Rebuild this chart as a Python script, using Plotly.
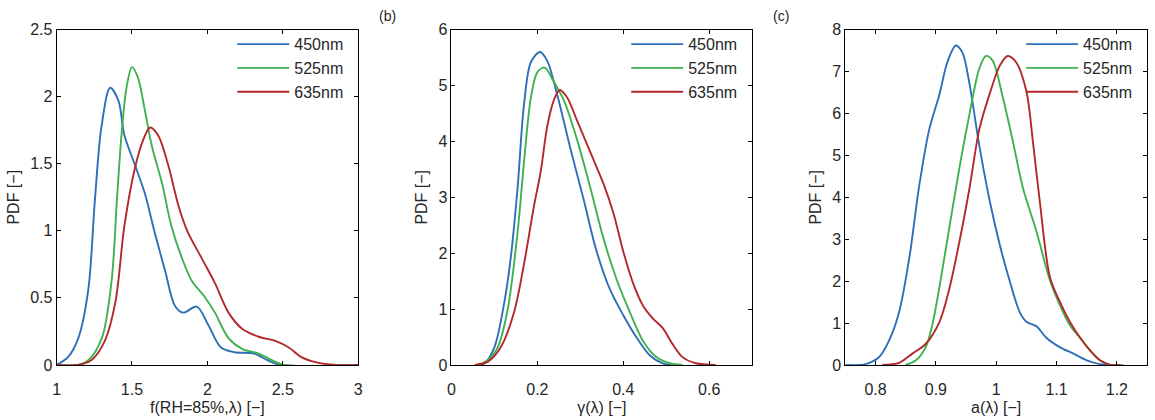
import plotly.graph_objects as go

# ---------------- data ----------------
series_names = ["450nm", "525nm", "635nm"]
colors = ["#2f6fb8", "#3fb24f", "#b3282a"]

# panel (a): f(RH=85%, lambda)
a_blue_x = [1.0, 1.077, 1.144, 1.21, 1.254, 1.298, 1.355, 1.41, 1.45, 1.52, 1.585, 1.65, 1.72, 1.785, 1.84, 1.93, 2.005, 2.09, 2.18, 2.31, 2.40, 2.49, 3.0]
a_blue_y = [0.0, 0.06, 0.2, 0.56, 1.23, 1.78, 2.066, 1.97, 1.71, 1.49, 1.28, 0.99, 0.70, 0.44, 0.39, 0.435, 0.30, 0.13, 0.095, 0.085, 0.035, 0.0, 0.0]
a_green_x = [1.0, 1.14, 1.21, 1.30, 1.365, 1.40, 1.43, 1.464, 1.50, 1.54, 1.585, 1.63, 1.70, 1.76, 1.83, 1.895, 1.98, 2.05, 2.14, 2.23, 2.34, 2.43, 2.51, 3.0]
a_green_y = [0.0, 0.0, 0.035, 0.2, 0.63, 1.23, 1.71, 2.07, 2.22, 2.14, 1.90, 1.64, 1.35, 1.04, 0.80, 0.63, 0.51, 0.39, 0.20, 0.12, 0.085, 0.035, 0.0, 0.0]
a_red_x = [1.0, 1.14, 1.23, 1.32, 1.39, 1.45, 1.52, 1.575, 1.62, 1.674, 1.74, 1.81, 1.87, 1.96, 2.05, 2.14, 2.23, 2.34, 2.45, 2.54, 2.62, 2.73, 2.85, 3.0]
a_red_y = [0.0, 0.0, 0.035, 0.18, 0.47, 1.04, 1.47, 1.68, 1.77, 1.71, 1.49, 1.18, 0.99, 0.80, 0.61, 0.39, 0.27, 0.21, 0.18, 0.13, 0.06, 0.017, 0.0, 0.0]

# panel (b): gamma(lambda)
b_blue_x = [0.055, 0.077, 0.10, 0.123, 0.138, 0.154, 0.169, 0.185, 0.206, 0.223, 0.246, 0.277, 0.308, 0.338, 0.369, 0.40, 0.431, 0.462, 0.492, 0.515]
b_blue_y = [0.0, 0.03, 0.32, 1.12, 1.92, 3.18, 4.67, 5.42, 5.60, 5.44, 4.84, 3.87, 2.95, 2.03, 1.35, 0.89, 0.49, 0.17, 0.03, 0.0]
b_green_x = [0.062, 0.085, 0.108, 0.131, 0.154, 0.169, 0.185, 0.20, 0.217, 0.238, 0.262, 0.292, 0.323, 0.354, 0.385, 0.415, 0.446, 0.477, 0.508, 0.538]
b_green_y = [0.0, 0.09, 0.32, 1.0, 2.38, 3.64, 4.79, 5.24, 5.32, 5.07, 4.73, 4.04, 3.18, 2.26, 1.52, 0.95, 0.43, 0.14, 0.03, 0.0]
b_red_x = [0.054, 0.085, 0.115, 0.146, 0.169, 0.192, 0.208, 0.223, 0.238, 0.252, 0.269, 0.292, 0.323, 0.354, 0.377, 0.40, 0.423, 0.446, 0.469, 0.492, 0.515, 0.538, 0.569, 0.615]
b_red_y = [0.0, 0.06, 0.32, 0.95, 1.81, 2.84, 3.47, 4.27, 4.73, 4.92, 4.79, 4.38, 3.81, 3.24, 2.72, 2.03, 1.46, 1.06, 0.83, 0.66, 0.37, 0.14, 0.03, 0.0]

# panel (c): a(lambda)
c_blue_x = [0.75, 0.783, 0.806, 0.822, 0.839, 0.856, 0.872, 0.889, 0.906, 0.919, 0.933, 0.944, 0.956, 0.972, 0.989, 1.006, 1.022, 1.039, 1.05, 1.067, 1.083, 1.106, 1.128, 1.15, 1.172, 1.189]
c_blue_y = [0.0, 0.02, 0.19, 0.57, 1.26, 2.56, 4.24, 5.62, 6.46, 7.22, 7.62, 7.45, 6.68, 5.23, 3.93, 2.86, 2.02, 1.26, 1.03, 0.92, 0.65, 0.42, 0.27, 0.11, 0.02, 0.0]
c_green_x = [0.85, 0.867, 0.883, 0.894, 0.906, 0.922, 0.939, 0.956, 0.972, 0.983, 0.994, 1.011, 1.028, 1.044, 1.067, 1.089, 1.106, 1.122, 1.139, 1.156, 1.172, 1.189, 1.211]
c_green_y = [0.0, 0.11, 0.42, 0.95, 1.87, 3.25, 4.70, 6.00, 7.07, 7.37, 7.26, 6.38, 5.31, 4.24, 3.17, 2.02, 1.41, 0.95, 0.65, 0.34, 0.11, 0.0, 0.0]
c_red_x = [0.811, 0.839, 0.861, 0.883, 0.906, 0.922, 0.939, 0.956, 0.972, 0.989, 1.006, 1.019, 1.033, 1.05, 1.061, 1.072, 1.089, 1.106, 1.122, 1.139, 1.156, 1.172, 1.189, 1.206]
c_red_y = [0.0, 0.05, 0.27, 0.50, 1.03, 1.80, 2.94, 4.24, 5.62, 6.46, 7.14, 7.37, 7.22, 6.53, 5.31, 3.93, 2.10, 1.49, 1.03, 0.65, 0.34, 0.11, 0.0, 0.0]

# axes / ticks
a_xticks = [1, 1.5, 2, 2.5, 3]
a_xticklabels = ["1", "1.5", "2", "2.5", "3"]
a_yticks = [0, 0.5, 1, 1.5, 2, 2.5]
a_yticklabels = ["0", "0.5", "1", "1.5", "2", "2.5"]
b_xticks = [0, 0.2, 0.4, 0.6]
b_xticklabels = ["0", "0.2", "0.4", "0.6"]
b_yticks = [0, 1, 2, 3, 4, 5, 6]
c_xticks = [0.8, 0.9, 1.0, 1.1, 1.2]
c_xticklabels = ["0.8", "0.9", "1", "1.1", "1.2"]
c_yticks = [0, 1, 2, 3, 4, 5, 6, 7, 8]

x_titles = ["f(RH=85%,λ) [−]", "γ(λ) [−]", "a(λ) [−]"]
y_title = "PDF [−]"
panel_labels = ["(b)", "(c)"]

# ---------------- figure ----------------
W, H = 1155, 420
FONT = "Liberation Sans, Arial, sans-serif"
TXT = "#262626"
FS = 16

fig = go.Figure()

panels = [
    ([(a_blue_x, a_blue_y), (a_green_x, a_green_y), (a_red_x, a_red_y)], "x", "y", "legend"),
    ([(b_blue_x, b_blue_y), (b_green_x, b_green_y), (b_red_x, b_red_y)], "x2", "y2", "legend2"),
    ([(c_blue_x, c_blue_y), (c_green_x, c_green_y), (c_red_x, c_red_y)], "x3", "y3", "legend3"),
]
for curves, xa, ya, lg in panels:
    for (xs, ys), name, col in zip(curves, series_names, colors):
        fig.add_trace(go.Scatter(
            x=xs, y=ys, mode="lines", name=name, xaxis=xa, yaxis=ya, legend=lg,
            line=dict(color=col, width=1.9, shape="spline", smoothing=0.9),
        ))

px_l = [53, 451, 848]
px_r = [357, 754, 1152]
top_px, bot_px = 22.5, 372
ydom = [1 - bot_px / H, 1 - top_px / H]

common_axis = dict(
    showline=True, linecolor="black", linewidth=1, mirror="ticks",
    ticks="inside", ticklen=4, tickcolor="black", tickwidth=1,
    showgrid=False, zeroline=False,
    tickfont=dict(family=FONT, size=FS, color=TXT),
    title_font=dict(family=FONT, size=FS, color=TXT),
)

xcfg = [
    dict(range=[1, 3], tickvals=a_xticks, ticktext=a_xticklabels),
    dict(range=[0, 0.7], tickvals=b_xticks, ticktext=b_xticklabels),
    dict(range=[0.75, 1.25], tickvals=c_xticks, ticktext=c_xticklabels),
]
ycfg = [
    dict(range=[0, 2.5], tickvals=a_yticks, ticktext=a_yticklabels),
    dict(range=[0, 6], tickvals=b_yticks),
    dict(range=[0, 8], tickvals=c_yticks),
]

for i in range(3):
    sfx = "" if i == 0 else str(i + 1)
    fig.layout["xaxis" + sfx] = dict(
        common_axis, domain=[px_l[i] / W, px_r[i] / W], anchor="y" + sfx,
        ticklabelstandoff=10,
        title=dict(text=x_titles[i], standoff=4), **xcfg[i])
    fig.layout["yaxis" + sfx] = dict(
        common_axis, domain=ydom, anchor="x" + sfx,
        title=dict(text=y_title, standoff=6), **ycfg[i])
    fig.layout["legend" + ("" if i == 0 else str(i + 1))] = dict(
        x=(px_r[i] - 10) / W, xanchor="right", y=1 - 20 / H, yanchor="top",
        bgcolor="rgba(255,255,255,0)", borderwidth=0, itemwidth=52,
        font=dict(family=FONT, size=FS, color=TXT), tracegroupgap=0,
    )

ann = []
for lbl, xp in zip(panel_labels, [387, 783]):
    ann.append(dict(text=lbl, x=xp / W, y=1 - 8 / H, xref="paper", yref="paper",
                    xanchor="center", yanchor="middle", showarrow=False,
                    font=dict(family=FONT, size=14, color=TXT)))

fig.update_layout(
    width=W, height=H, margin=dict(l=0, r=0, t=0, b=0),
    paper_bgcolor="white", plot_bgcolor="white",
    showlegend=True, annotations=ann,
    font=dict(family=FONT, color=TXT),
)

fig.write_html("out.html")
